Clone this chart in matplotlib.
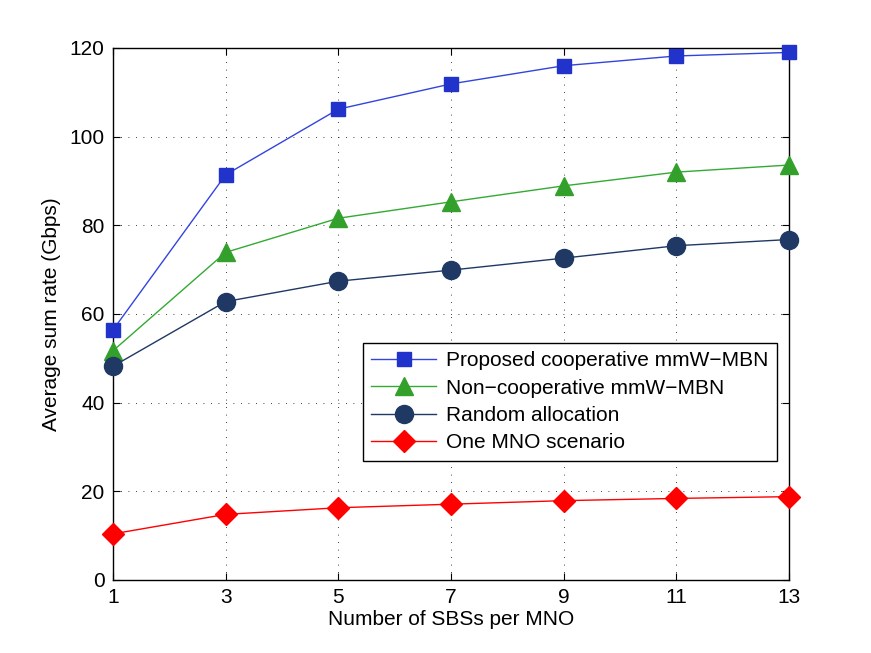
import matplotlib
matplotlib.use('Agg')
import matplotlib.pyplot as plt

# SBS count per MNO
sbs = [1, 3, 5, 7, 9, 11, 13]
# average sum rate (Gbps)
proposed = [56.4, 91.4, 106.2, 111.9, 116.0, 118.2, 119.0]
noncoop = [51.7, 73.9, 81.6, 85.3, 88.9, 92.0, 93.6]
random_alloc = [48.2, 62.8, 67.4, 69.9, 72.6, 75.4, 76.8]
one_mno = [10.4, 14.8, 16.3, 17.1, 17.9, 18.4, 18.8]

labels = ['Proposed cooperative mmW\u2212MBN', 'Non\u2212cooperative mmW\u2212MBN',
          'Random allocation', 'One MNO scenario']

plt.rcParams['font.family'] = ['Liberation Sans', 'DejaVu Sans']
plt.rcParams['font.size'] = 15

fig = plt.figure(figsize=(8.71, 6.53), dpi=100)
ax = fig.add_axes([0.1297, 0.1118, 0.7762, 0.8147])

kw = dict(lw=1, clip_on=False, zorder=3)
ax.plot(sbs, proposed, '-s', color='#3344dd', mfc='#2233cc', mec='#2233cc', ms=10, label=labels[0], **kw)
ax.plot(sbs, noncoop, '-^', color='#33aa33', mfc='#33a02c', mec='#33a02c', ms=13, label=labels[1], **kw)
ax.plot(sbs, random_alloc, '-o', color='#1f3864', mfc='#1f3864', mec='#1f3864', ms=13, label=labels[2], **kw)
ax.plot(sbs, one_mno, '-D', color='#ff0000', mfc='#ff0000', mec='#ff0000', ms=11, label=labels[3], **kw)

ax.set_xlim(1, 13)
ax.set_ylim(0, 120)
ax.set_xticks(sbs)
ax.set_yticks(range(0, 121, 20))
ax.grid(True, color='black', linestyle=(0, (1, 8)), linewidth=0.6)
ax.tick_params(direction='in', top=True, right=True, length=5, labelsize=15, pad=6)
for s in ax.spines.values():
    s.set_linewidth(1.0)
ax.set_xlabel('Number of SBSs per MNO', fontsize=15, labelpad=2)
ax.set_ylabel('Average sum rate (Gbps)', fontsize=15, labelpad=6)

leg = ax.legend(loc='upper left', bbox_to_anchor=(0.3698, 0.4455), fontsize=15,
                frameon=True, fancybox=False, edgecolor='black', framealpha=1,
                handlelength=3.1, borderpad=0.4, labelspacing=0.4, borderaxespad=0,
                handletextpad=0.5)
leg.get_frame().set_linewidth(1.0)

fig.savefig('out.png', dpi=100)
